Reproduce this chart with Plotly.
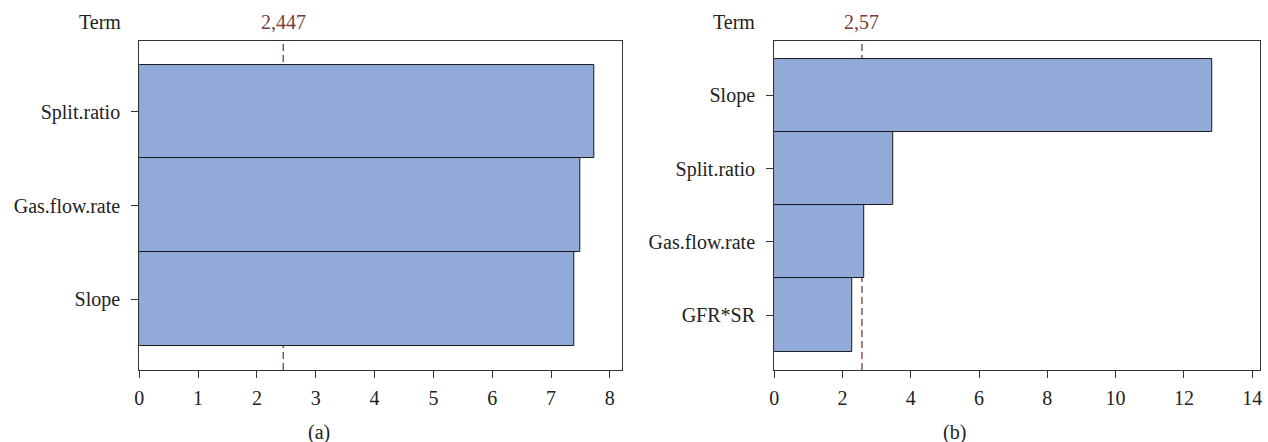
import plotly.graph_objects as go

# Panel (a)
terms_a = ["Slope", "Gas.flow.rate", "Split.ratio"]          # bottom -> top
effects_a = [7.39, 7.50, 7.74]
ref_a = 2.447
ref_a_label = "2,447"
xticks_a = [0, 1, 2, 3, 4, 5, 6, 7, 8]

# Panel (b)
terms_b = ["GFR*SR", "Gas.flow.rate", "Split.ratio", "Slope"]  # bottom -> top
effects_b = [2.27, 2.64, 3.50, 12.84]
ref_b = 2.57
ref_b_label = "2,57"
xticks_b = [0, 2, 4, 6, 8, 10, 12, 14]

FONT = "Liberation Serif"
FS = 20
BAR = "#92aad8"
REF = "#7b3a3a"
AX = "#333333"

fig = go.Figure()
fig.add_trace(go.Bar(x=effects_a, y=terms_a, orientation="h", width=1,
                     marker=dict(color=BAR, line=dict(color="#1a1a1a", width=1)),
                     xaxis="x", yaxis="y", showlegend=False))
fig.add_trace(go.Bar(x=effects_b, y=terms_b, orientation="h", width=1,
                     marker=dict(color=BAR, line=dict(color="#1a1a1a", width=1)),
                     xaxis="x2", yaxis="y2", showlegend=False))

common_x = dict(showline=True, mirror=True, linecolor=AX, linewidth=1.3,
                ticks="outside", ticklen=7, tickcolor=AX, tickwidth=1.3,
                showgrid=False, zeroline=False, ticklabelstandoff=3,
                tickfont=dict(family=FONT, size=FS, color="#222"))
common_y = dict(showline=True, mirror=True, linecolor=AX, linewidth=1.3,
                ticks="outside", ticklen=7, tickcolor=AX, tickwidth=1.3,
                showgrid=False, zeroline=False, type="category", ticklabelstandoff=7,
                tickfont=dict(family=FONT, size=FS, color="#222"))

fig.update_layout(
    width=1268, height=442,
    margin=dict(l=0, r=0, t=0, b=0),
    paper_bgcolor="white", plot_bgcolor="white",
    font=dict(family=FONT, size=FS, color="#222"),
    xaxis=dict(domain=[0.1065, 0.4890], range=[0, 8.2], tickvals=xticks_a,
               anchor="y", **common_x),
    yaxis=dict(domain=[0.1629, 0.9072], range=[-0.75, 2.75],
               categoryorder="array", categoryarray=terms_a, anchor="x", **common_y),
    xaxis2=dict(domain=[0.6100, 0.9950], range=[0, 14.22], tickvals=xticks_b,
                anchor="y2", **common_x),
    yaxis2=dict(domain=[0.1629, 0.9072], range=[-0.75, 3.74],
                categoryorder="array", categoryarray=terms_b, anchor="x2", **common_y),
    bargap=0,
)

for xr, yr, val in [("x", "y domain", ref_a), ("x2", "y2 domain", ref_b)]:
    fig.add_shape(type="line", xref=xr, yref=yr, x0=val, x1=val, y0=0, y1=1,
                  line=dict(color=REF, width=1.3, dash="7px,4px"), layer="below")

anns = [
    dict(text="Term", x=0.0938, y=0.950, xanchor="right", yanchor="middle"),
    dict(text="Term", x=0.5962, y=0.950, xanchor="right", yanchor="middle"),
    dict(text=ref_a_label, x=ref_a, xref="x", y=0.950, xanchor="center", yanchor="middle",
         font=dict(family=FONT, size=FS, color=REF)),
    dict(text=ref_b_label, x=ref_b, xref="x2", y=0.950, xanchor="center", yanchor="middle",
         font=dict(family=FONT, size=FS, color=REF)),
    dict(text="(a)", x=0.249, y=0.0204, xanchor="center", yanchor="middle"),
    dict(text="(b)", x=0.7532, y=0.0204, xanchor="center", yanchor="middle"),
]
for a in anns:
    a.setdefault("xref", "paper")
    a["yref"] = "paper"
    a["showarrow"] = False
    a.setdefault("font", dict(family=FONT, size=FS, color="#222"))
    fig.add_annotation(**a)

fig.write_html("out.html")
